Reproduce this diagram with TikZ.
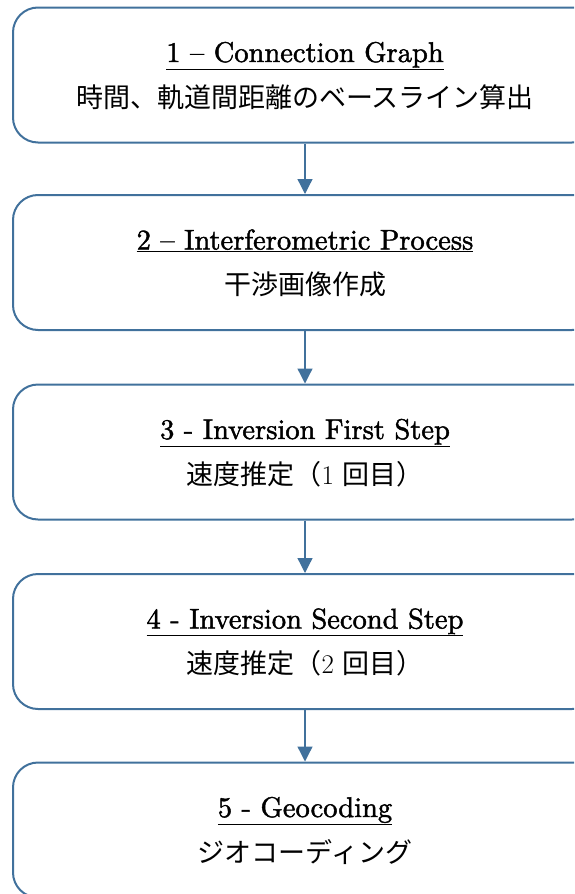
\documentclass[tikz,border=0pt]{standalone}
\usepackage{fontspec}
\newfontfamily\cjk{Noto Sans CJK JP}
\newfontfamily\titlefont{lmroman10-regular.otf}[FakeBold=1.6,Ligatures=TeX]
\usepackage{xcolor}
\usepackage{tikz}
\usetikzlibrary{positioning}
\usetikzlibrary{arrows.meta}
\definecolor{flowblue}{HTML}{41719C}

\tikzset{
  stagebox/.style={draw=flowblue, line width=2pt, rounded corners=25pt, minimum width=584pt, minimum height=135pt},
  stagetitle/.style={anchor=base, font=\fontsize{28.5}{32}\titlefont},
  stagetext/.style={anchor=base, font=\fontsize{27}{30}\selectfont},
  flowarrow/.style={draw=flowblue, line width=1.3pt, -{Triangle[width=15pt,length=15pt]}}
}

\begin{document}
\begin{tikzpicture}[x=1pt,y=-1pt]
 \useasboundingbox (0,0) rectangle (574,894);
 \clip (0,0) rectangle (574,894);

 % stages
 \foreach \i/\ypos/\title/\jp in {
     1/75/{1 -- Connection Graph}/{\cjk 時間、軌道間距離のベースライン算出},
     2/262.5/{2 -- Interferometric Process}/{\cjk 干渉画像作成},
     3/452/{3 - Inversion First Step}/{{\cjk 速度推定（}1 {\cjk 回目）}},
     4/641.5/{4 - Inversion Second Step}/{{\cjk 速度推定（}2 {\cjk 回目）}},
     5/830/{5 - Geocoding}/{\cjk ジオコーディング} } {
   \node[stagebox] (box\i) at (305,\ypos) {};
   \node[stagetitle] (title\i) at ([yshift=13pt]box\i.center) {\underline{\title}};
   \node[stagetext] (text\i) at ([yshift=-32pt]box\i.center) {\jp};
 }

 % arrows
 \foreach \i/\j in {1/2, 2/3, 3/4, 4/5}
   \draw[flowarrow] (box\i) -- (box\j);

\end{tikzpicture}
\end{document}
